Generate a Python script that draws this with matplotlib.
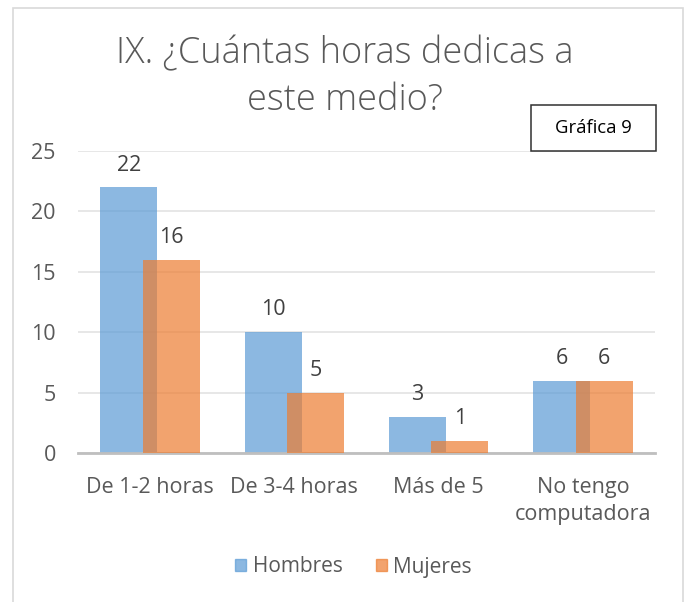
import numpy as np
import matplotlib.pyplot as plt
from matplotlib.patches import Rectangle, Patch

categorias = ['De 1-2 horas', 'De 3-4 horas', 'Más de 5', 'No tengo\ncomputadora']
hombres = [22, 10, 3, 6]
mujeres = [16, 5, 1, 6]
series = ['Hombres', 'Mujeres']

plt.rcParams['font.family'] = ['Open Sans', 'DejaVu Sans']
gris = '#595959'

fig = plt.figure(figsize=(6.89, 6.02), dpi=100)
# chart border
fig.patches.append(Rectangle((13 / 689, -0.01), 670 / 689, 1 - 8 / 602 + 0.01,
                             transform=fig.transFigure, fill=False,
                             edgecolor='#D9D9D9', linewidth=1.2))

ax = fig.add_axes([78 / 689, 1 - 453 / 602, 577 / 689, 302 / 602])
x = np.arange(len(categorias))
w = 0.396
off = 0.147
b1 = ax.bar(x - off, hombres, w, color='#5B9BD5', alpha=0.7, zorder=2)
b2 = ax.bar(x + off, mujeres, w, color='#ED7D31', alpha=0.7, zorder=3)

for bars, vals in ((b1, hombres), (b2, mujeres)):
    for r, v in zip(bars, vals):
        ax.annotate(str(v), (r.get_x() + r.get_width() / 2, v), xytext=(0, 16),
                    textcoords='offset points', ha='center', va='center',
                    fontsize=15.5, color='#404040')

ax.set_xlim(-0.5, 3.5)
ax.set_ylim(0, 25)
ax.set_yticks(range(0, 26, 5))
ax.yaxis.grid(True, color='#E3E3E3', linewidth=1.2, zorder=0)
ax.set_axisbelow(True)
for s in ['top', 'right', 'left']:
    ax.spines[s].set_visible(False)
ax.spines['bottom'].set_color('#BFBFBF')
ax.spines['bottom'].set_linewidth(2)
ax.tick_params(length=0, labelsize=15.5, colors=gris)
ax.tick_params(axis='y', pad=16)
ax.tick_params(axis='x', pad=17)
ax.set_xticks(x)
ax.set_xticklabels(categorias, linespacing=1.4)

fig.text(0.5, 1 - 77 / 602, 'IX. ¿Cuántas horas dedicas a\neste medio?', ha='center',
         va='center', fontsize=26, color=gris, fontweight='light', linespacing=1.35)

# "Gráfica 9" box
fig.patches.append(Rectangle((531 / 689, 1 - 151 / 602), 125 / 689, 46 / 602,
                             transform=fig.transFigure, facecolor='white',
                             edgecolor='#303030', linewidth=1.1, zorder=5))
fig.text(593.5 / 689, 1 - 128 / 602, 'Gráfica 9', ha='center', va='center', fontsize=13.3,
         color='black', zorder=6)

handles = [Patch(color='#5B9BD5', alpha=0.7), Patch(color='#ED7D31', alpha=0.7)]
fig.legend(handles, series, loc='center', bbox_to_anchor=(0.5 + 9 / 689, 1 - 567 / 602), ncol=2,
           frameon=False, fontsize=15, labelcolor=gris, handlelength=0.55, handleheight=0.55,
           handletextpad=0.3, columnspacing=1.6)

fig.savefig('out.png', dpi=100)
